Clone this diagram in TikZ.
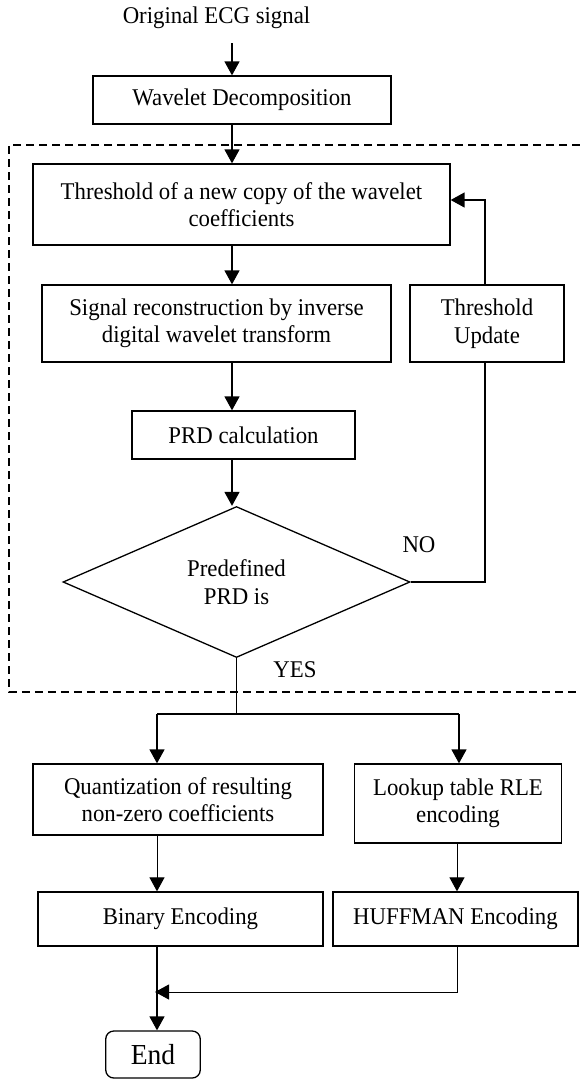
\documentclass[tikz,border=0pt]{standalone}
\usepackage{fontspec}
\setmainfont[FakeStretch=0.95]{Liberation Serif}
\usetikzlibrary{shapes.geometric,arrows.meta}
\begin{document}
\begin{tikzpicture}[x=1pt,y=-1pt,
  every node/.style={font=\fontsize{24}{27.5}\selectfont, inner sep=0pt},
  box/.style={draw, rectangle, line width=1.3pt, align=center},
  arr/.style={line width=1.4pt, -{Triangle[length=14pt,width=15pt]}},
  ln/.style={line width=1.4pt},
  lbl/.style={align=center}]
\useasboundingbox (0,0) rectangle (579,1080);
% dashed frame
\draw[line width=1.2pt, dash pattern=on 8pt off 5pt] (580,145) -- (9,145) -- (9,692) -- (580,692);
% nodes
\node[lbl] (orig) at (216.5,18) {Original ECG signal};
\node[box, minimum width=298pt, minimum height=48pt] (wd) at (242,100) {Wavelet Decomposition};
\node[box, minimum width=417pt, minimum height=81pt] (thr) at (241.5,204.5) {Threshold of a new copy of the wavelet\\coefficients};
\node[box, minimum width=349pt, minimum height=77pt] (rec) at (216.5,323.5) {Signal reconstruction by inverse\\digital wavelet transform};
\node[box, minimum width=154pt, minimum height=77pt] (upd) at (487,323.5) {Threshold\\Update};
\node[box, minimum width=223pt, minimum height=48pt] (prd) at (243.5,435) {PRD calculation};
\node[draw, diamond, line width=1.3pt, minimum width=347pt, minimum height=151pt, align=center] (dia) at (236.5,582) {Predefined\\PRD is};
\node[lbl] (no) at (419,545) {NO};
\node[lbl] (yes) at (295,670) {YES};
\node[box, minimum width=290pt, minimum height=71pt] (quant) at (178,799.5) {Quantization of resulting\\non-zero coefficients};
\node[box, minimum width=206.5pt, minimum height=79pt] (lut) at (458,803.5) {Lookup table RLE\\encoding};
\node[box, minimum width=285pt, minimum height=54pt] (bin) at (180.5,919) {Binary Encoding};
\node[box, minimum width=245pt, minimum height=54pt] (huf) at (455.5,919) {HUFFMAN Encoding};
\node[box, rounded corners=8pt, minimum width=94.5pt, minimum height=47pt, font=\fontsize{29}{32}\selectfont] (end) at (153,1054.5) {End};
% coordinates
\coordinate (a0) at (232,43);
\coordinate (sp) at (232,0);
\coordinate (fbtop) at (485,200);
\coordinate (fbbot) at (485,582);
\coordinate (split) at (236.5,714);
\coordinate (sl) at (157,714);
\coordinate (sr) at (459,714);
\coordinate (hb) at (457,992);
\coordinate (join) at (155,992);
% connectors
\draw[arr] (a0) -- (wd.north -| a0);
\draw[arr] (wd.south -| sp) -- (thr.north -| sp);
\draw[arr] (thr.south -| sp) -- (rec.north -| sp);
\draw[arr] (rec.south -| sp) -- (prd.north -| sp);
\draw[arr] (prd.south -| sp) -- (dia.north -| sp);
\draw[ln] (dia.east) -- (fbbot) -- (upd.south -| fbbot);
\draw[arr] (upd.north -| fbtop) -- (fbtop) -- (thr.east |- fbtop);
\draw[ln] (dia.south) -- (dia.south |- split);
\draw[ln] (sl) -- (sr);
\draw[arr] (sl) -- (quant.north -| sl);
\draw[arr] (sr) -- (lut.north -| sr);
\draw[arr, line width=1pt] (quant.south -| sl) -- (bin.north -| sl);
\draw[arr, line width=1pt] (lut.south -| hb) -- (huf.north -| hb);
\draw[arr, line width=1pt] (huf.south -| hb) -- (hb) -- (join);
\draw[arr] (bin.south -| sl) -- (end.north -| sl);
\end{tikzpicture}
\end{document}
